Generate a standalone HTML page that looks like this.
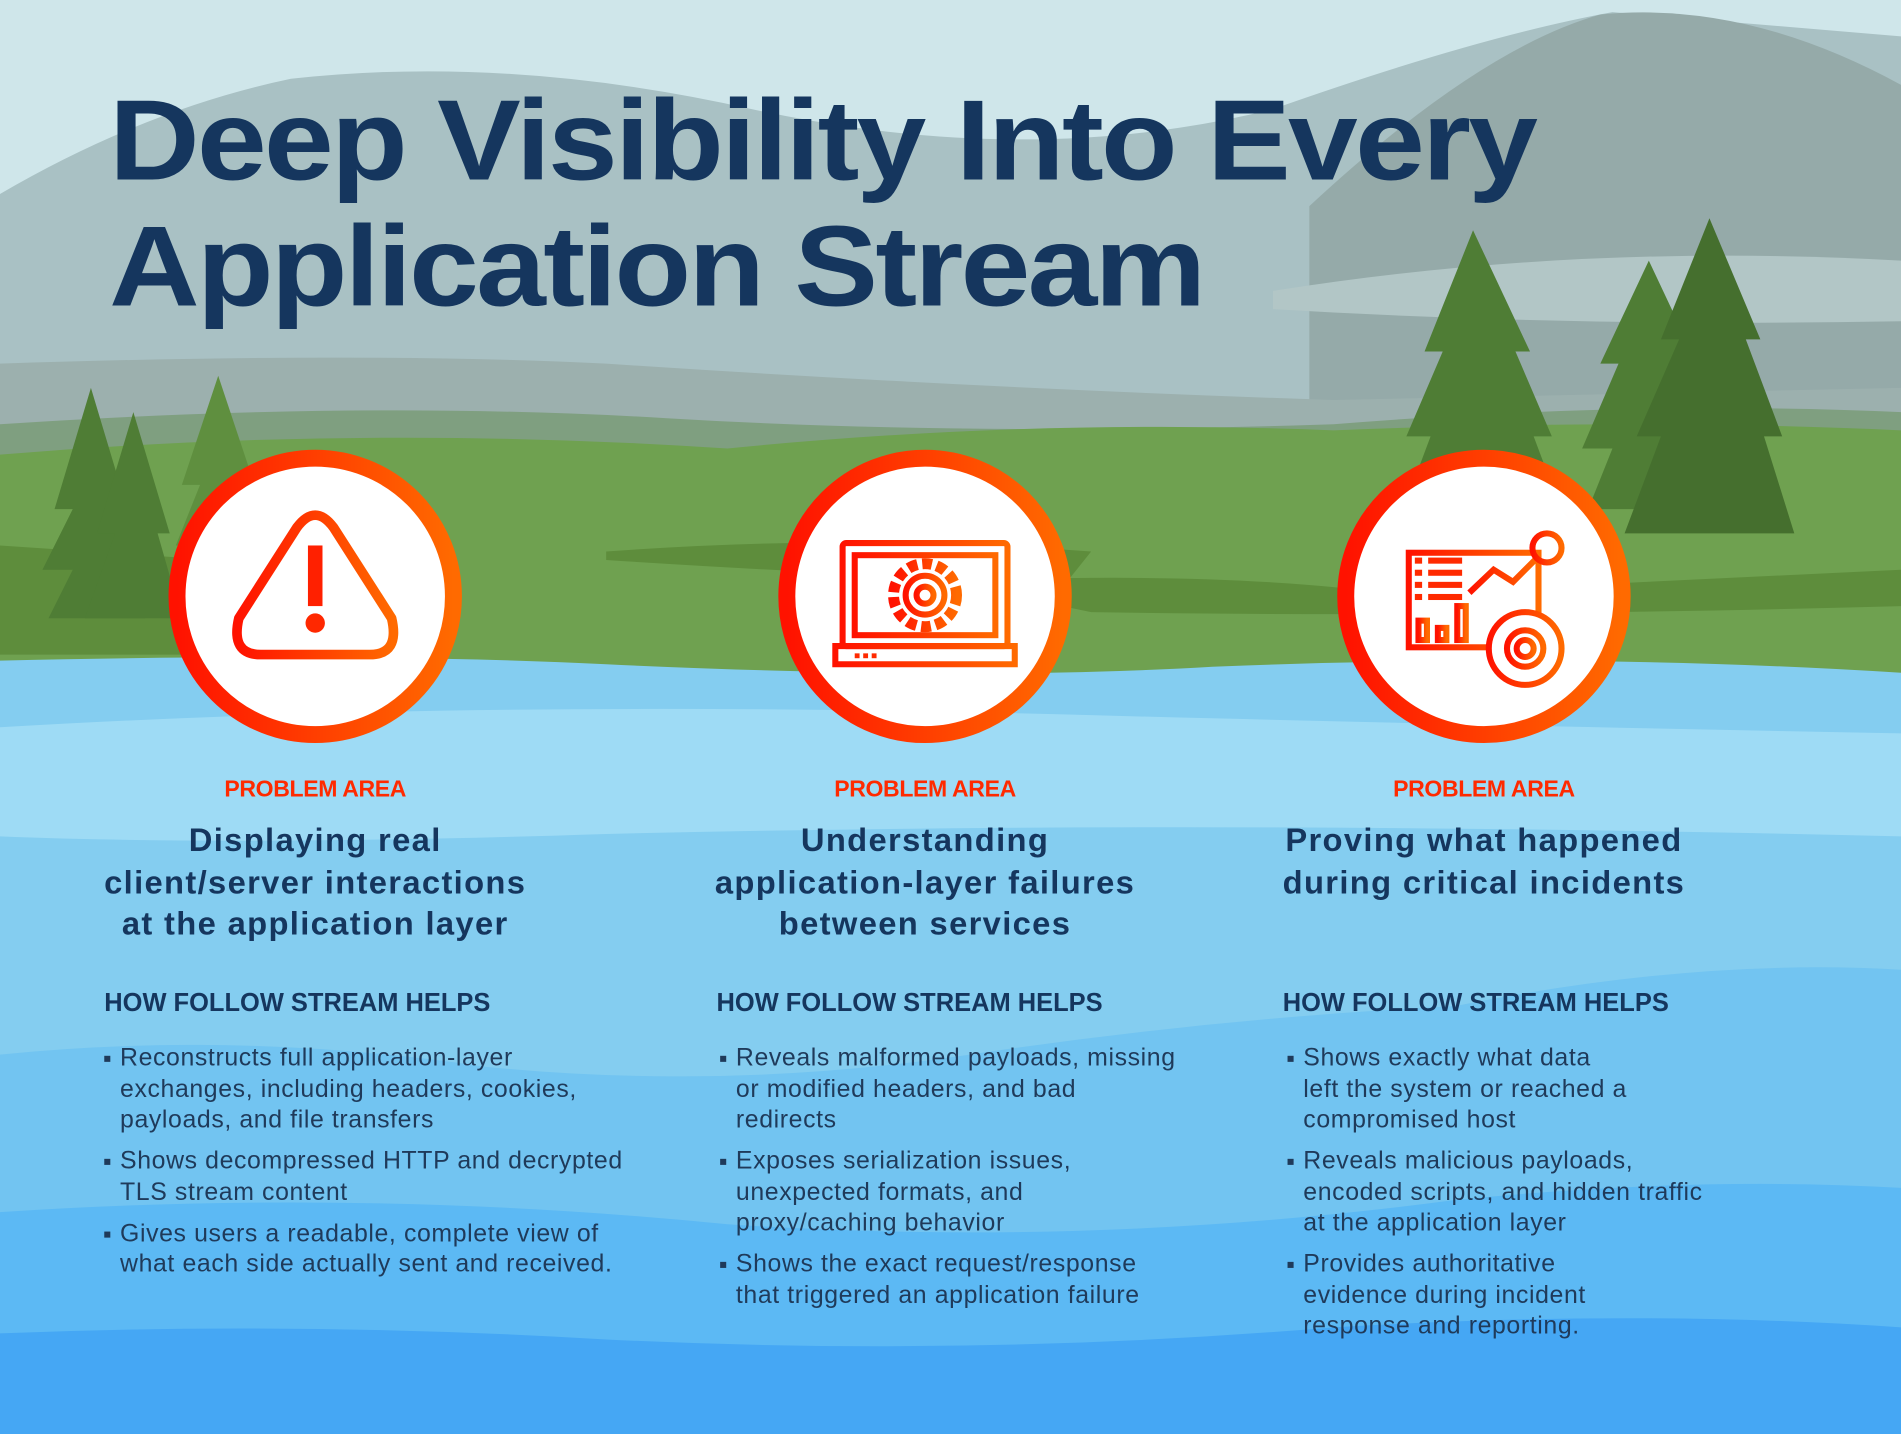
<!DOCTYPE html>
<html><head><meta charset="utf-8"><style>
html,body{margin:0;padding:0;width:1901px;height:1434px;overflow:hidden;background:#cfe6ea}
#w{position:absolute;left:0;top:0;width:1568px;height:1183px;transform:scale(1.21237,1.21217);transform-origin:0 0;font-family:"Liberation Sans",sans-serif}
svg{position:absolute;left:0;top:0}
.t{position:absolute;color:#15365e;font-weight:bold}
h1{position:absolute;left:90px;top:64px;margin:0;font-size:94px;line-height:104px;letter-spacing:-2px;color:#15365e;font-weight:bold;transform:scaleX(1.10);transform-origin:0 0;white-space:nowrap}
.pa{position:absolute;width:400px;text-align:center;color:#ff2a00;font-weight:bold;font-size:19px;top:641px;letter-spacing:-0.3px}
.hd{position:absolute;width:440px;text-align:center;font-size:27px;line-height:34.5px;top:676px;letter-spacing:1.1px;white-space:nowrap}
.hw{position:absolute;top:816px;font-size:21px;letter-spacing:0}
ul{position:absolute;top:860px;margin:0;padding:0;list-style:none;color:#1f3a5a;font-size:20.5px;line-height:25.5px;letter-spacing:0.5px;white-space:nowrap}
li{position:relative;padding-left:13px;margin-bottom:8.5px}
li:before{content:"";position:absolute;left:0;top:11px;width:5px;height:5px;background:#1f3a5a}
</style></head><body><div id="w">
<svg width="1568" height="1183" viewBox="0 0 1568 1183">
<defs><linearGradient id="g" x1="0" x2="1" y1="0" y2="0"><stop offset="0" stop-color="#ff1200"/><stop offset="1" stop-color="#ff6a00"/></linearGradient></defs>
<rect width="1568" height="1183" fill="#cfe6ea"/>
<path d="M0 160 Q120 90 240 65 Q420 45 620 90 Q850 140 1050 90 Q1220 30 1330 10 L1568 30 L1568 420 L0 420Z" fill="#a9c1c4"/>
<path d="M1080 170 Q1220 40 1320 12 Q1440 0 1568 70 L1568 330 L1080 330Z" fill="#95aaa9"/>
<path d="M1050 240 Q1300 200 1568 215 L1568 265 Q1300 270 1050 255Z" fill="#b2c6c6"/>
<path d="M0 330 Q200 290 420 300 Q700 315 1000 350 L1000 420 L0 420Z" fill="#9ab3ae"/>
<path d="M0 300 Q300 290 500 300 Q800 320 1100 330 L1568 320 L1568 420 L0 420Z" fill="#9cb0ae"/>
<path d="M0 350 Q300 330 550 345 Q800 360 1100 350 Q1350 330 1568 340 L1568 420 L0 420Z" fill="#7f9f80"/>
<path d="M0 375 Q300 350 600 370 Q850 345 1100 355 Q1350 345 1568 355 L1568 570 L0 570Z" fill="#6fa150"/>
<path d="M500 455 Q700 440 900 455 L880 480 Q700 475 500 462Z" fill="#5e8d3c"/>
<path d="M0 450 Q150 460 300 470 L300 540 L0 540Z" fill="#5e8d3c"/>
<path d="M780 480 Q1000 470 1150 490 L1568 470 L1568 500 Q1200 510 900 505Z" fill="#5e8d3c"/>
<g fill="#4f7d35">
<polygon points="75,320 45,420 60,420 35,470 60,470 40,510 120,510 100,470 115,470 95,420 105,420"/>
<polygon points="110,340 80,440 95,440 70,510 150,510 130,440 140,440"/>
<polygon points="180,310 150,400 165,400 145,450 215,450 200,400 210,400" fill="#5f8f3f"/>
<polygon points="1215,190 1175,290 1190,290 1160,360 1180,360 1165,400 1280,400 1265,360 1280,360 1250,290 1262,290"/>
<polygon points="1360,215 1320,300 1335,300 1305,370 1330,370 1310,420 1420,420 1400,370 1415,370 1390,300 1400,300"/>
<polygon points="1410,180 1370,280 1385,280 1350,360 1370,360 1340,440 1480,440 1455,360 1470,360 1440,280 1452,280" fill="#456f2e"/>
</g>
<path d="M0 545 Q300 538 500 548 Q800 562 1000 550 Q1300 538 1568 555 L1568 1183 L0 1183Z" fill="#84cdf0"/>
<path d="M0 600 Q400 576 900 590 Q1200 598 1568 605 L1568 690 Q1000 676 500 688 Q200 698 0 690Z" fill="#9edbf5"/>
<path d="M0 870 Q200 850 400 880 Q600 900 800 870 Q1000 840 1200 830 Q1400 790 1568 800 L1568 1183 L0 1183Z" fill="#72c4f1"/>
<path d="M0 1000 Q300 980 600 1010 Q900 1030 1200 990 Q1400 970 1568 980 L1568 1183 L0 1183Z" fill="#5cb9f4"/>
<path d="M0 1100 Q250 1090 500 1105 Q800 1120 1100 1095 Q1350 1080 1568 1095 L1568 1183 L0 1183Z" fill="#45a7f4"/>
<g fill="#fff" stroke="url(#g)" stroke-width="14">
<circle cx="260" cy="492" r="114"/><circle cx="763" cy="492" r="114"/><circle cx="1224" cy="492" r="114"/>
</g>
<g fill="none" stroke="url(#g)" stroke-width="8" stroke-linejoin="round">
<path d="M245 435 Q260 415 275 435 L323 510 Q330 540 305 540 L215 540 Q190 540 197 510Z"/>
</g>
<rect x="254" y="450" width="12" height="50" fill="#ff2000"/><circle cx="260" cy="514" r="8" fill="#ff2800"/>
<g fill="none" stroke="url(#g)" stroke-width="5">
<rect x="695" y="448" width="136" height="85" rx="3"/><rect x="705" y="458" width="116" height="66"/>
<path d="M689 533 L837 533 L837 548 L689 548Z"/>
<circle cx="763" cy="491" r="26" stroke-dasharray="8 4" stroke-width="9"/><circle cx="763" cy="491" r="16"/><circle cx="763" cy="491" r="7"/>
<rect x="1162" y="456" width="107" height="78"/>
<path d="M1212 489 L1232 470 L1248 480 L1268 460"/><circle cx="1276" cy="452" r="12"/><path d="M1276 464 L1276 512"/>
<circle cx="1258" cy="535" r="30" fill="#fff"/><circle cx="1258" cy="535" r="15"/><circle cx="1258" cy="535" r="7"/>
<rect x="1170" y="512" width="7" height="16"/><rect x="1186" y="518" width="7" height="10"/><rect x="1202" y="500" width="7" height="28"/>
</g>
<g fill="#ff2a00"><rect x="1167" y="460" width="6" height="5"/><rect x="1178" y="460" width="28" height="5"/><rect x="1167" y="470" width="6" height="5"/><rect x="1178" y="470" width="28" height="5"/><rect x="1167" y="480" width="6" height="5"/><rect x="1178" y="480" width="28" height="5"/><rect x="1167" y="490" width="6" height="5"/><rect x="1178" y="490" width="28" height="5"/>
<rect x="705" y="539" width="4" height="4"/><rect x="712" y="539" width="4" height="4"/><rect x="719" y="539" width="4" height="4"/></g>
</svg>
<h1>Deep Visibility Into Every<br>Application Stream</h1>
<div class="pa" style="left:60px">PROBLEM AREA</div>
<div class="pa" style="left:563px">PROBLEM AREA</div>
<div class="pa" style="left:1024px">PROBLEM AREA</div>
<div class="t hd" style="left:40px">Displaying real<br>client/server interactions<br>at the application layer</div>
<div class="t hd" style="left:543px">Understanding<br>application-layer failures<br>between services</div>
<div class="t hd" style="left:1004px">Proving what happened<br>during critical incidents</div>
<div class="t hw" style="left:86px">HOW FOLLOW STREAM HELPS</div>
<div class="t hw" style="left:591px">HOW FOLLOW STREAM HELPS</div>
<div class="t hw" style="left:1058px">HOW FOLLOW STREAM HELPS</div>
<ul style="left:86px"><li>Reconstructs full application-layer<br>exchanges, including headers, cookies,<br>payloads, and file transfers</li><li>Shows decompressed HTTP and decrypted<br>TLS stream content</li><li>Gives users a readable, complete view of<br>what each side actually sent and received.</li></ul>
<ul style="left:594px"><li>Reveals malformed payloads, missing<br>or modified headers, and bad<br>redirects</li><li>Exposes serialization issues,<br>unexpected formats, and<br>proxy/caching behavior</li><li>Shows the exact request/response<br>that triggered an application failure</li></ul>
<ul style="left:1062px"><li>Shows exactly what data<br>left the system or reached a<br>compromised host</li><li>Reveals malicious payloads,<br>encoded scripts, and hidden traffic<br>at the application layer</li><li>Provides authoritative<br>evidence during incident<br>response and reporting.</li></ul>
</div></body></html>
